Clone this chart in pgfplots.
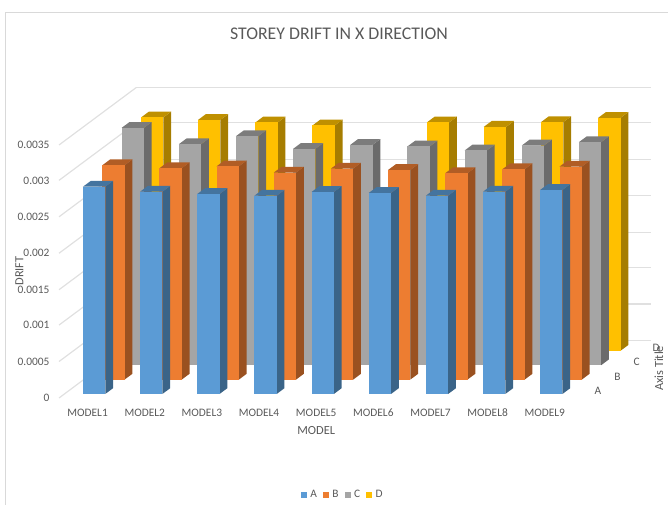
\documentclass[border=0pt]{standalone}
\usepackage{fontspec}
\setmainfont{Carlito}
\usepackage{pgfplots}
\pgfplotsset{compat=1.18}

\definecolor{txt}{HTML}{595959}
\definecolor{gridc}{HTML}{E0E0E0}
\definecolor{frame}{HTML}{D9D9D9}
\definecolor{AFront}{HTML}{5B9BD5}\definecolor{ASide}{HTML}{3A6488}\definecolor{ATop}{HTML}{44749F}
\definecolor{BFront}{HTML}{ED7D31}\definecolor{BSide}{HTML}{9A5120}\definecolor{BTop}{HTML}{B15D25}
\definecolor{CFront}{HTML}{A5A5A5}\definecolor{CSide}{HTML}{6B6B6B}\definecolor{CTop}{HTML}{7C7C7C}
\definecolor{DFront}{HTML}{FFC000}\definecolor{DSide}{HTML}{A67D00}\definecolor{DTop}{HTML}{BF9000}

% One cuboid: model index, depth index, drift value, colour stem
\newcommand{\drawcuboid}[4]{%
  \pgfmathsetmacro\xa{#1+0.325}\pgfmathsetmacro\xb{\xa+0.39}%
  \pgfmathsetmacro\ya{#2+0.28}\pgfmathsetmacro\yb{\ya+0.4}%
  \edef\temp{%
    \noexpand\addplot3[draw=none,fill=#4Side,forget plot] coordinates
      {(\xb,\ya,0) (\xb,\yb,0) (\xb,\yb,#3) (\xb,\ya,#3)};
    \noexpand\addplot3[draw=none,fill=#4Top,forget plot] coordinates
      {(\xa,\ya,#3) (\xb,\ya,#3) (\xb,\yb,#3) (\xa,\yb,#3)};
    \noexpand\addplot3[draw=none,fill=#4Front,forget plot] coordinates
      {(\xa,\ya,0) (\xb,\ya,0) (\xb,\ya,#3) (\xa,\ya,#3)};
  }\temp}

\begin{document}
\begin{tikzpicture}[x=1pt,y=1pt]
\useasboundingbox (0,0) rectangle (668,505);
% chart area border, open at the right and at the bottom
\draw[frame,line width=1.2pt] (5.5,0) -- (5.5,492.5) -- (668,492.5);
\node[txt,font=\fontsize{17.8}{20}\selectfont] at (339,471.5) {STOREY DRIFT IN X DIRECTION};

\begin{axis}[
  at={(59pt,107pt)}, anchor=south west,
  x={(57.15pt,0pt)}, y={(19.35pt,14.4pt)}, z={(0pt,72.4pt)},
  z coord trafo/.code={\pgfmathparse{#1*1000}},
  xmin=0, xmax=9, ymin=0, ymax=4, zmin=0, zmax=0.0035,
  clip=false,
  axis line style={draw=none},
  major tick length=0pt,
  tick style={draw=none},
  zmajorgrids=true,
  grid style={gridc,line width=1.2pt},
  xtick={0.5,1.5,2.5,3.5,4.5,5.5,6.5,7.5,8.5},
  xticklabels={MODEL1,MODEL2,MODEL3,MODEL4,MODEL5,MODEL6,MODEL7,MODEL8,MODEL9},
  ytick={0.5,1.5,2.5,3.5},
  yticklabels={A,B,C,D},
  ztick={0,0.0005,0.001,0.0015,0.002,0.0025,0.003,0.0035},
  zticklabels={0,0.0005,0.001,0.0015,0.002,0.0025,0.003,0.0035},
  tick label style={txt,font=\fontsize{11.4}{13}\selectfont},
  xticklabel style={anchor=center,yshift=-14.7pt},
  yticklabel style={anchor=center,xshift=15pt},
  zticklabel style={anchor=east,xshift=-6pt},
  label style={txt,font=\fontsize{12.4}{14}\selectfont},
  xlabel={MODEL},
  xlabel style={at={(axis cs:4.5,0,0)},anchor=center,yshift=-33pt},
  ylabel={Axis Title},
  ylabel style={at={(axis cs:9,4,0)},anchor=center,xshift=8pt,yshift=-28pt,rotate=90},
  zlabel={DRIFT},
  zlabel style={at={(axis cs:0,0,0)},anchor=center,xshift=127pt,yshift=39.5pt},
  legend style={draw=none,fill=none,at={(axis cs:4.965,0,0)},yshift=-97pt,anchor=center,
    legend columns=4,font=\fontsize{11.4}{13}\selectfont,text=txt,
    /tikz/every even column/.append style={column sep=4pt},
    /tikz/every odd column/.append style={column sep=1.5pt}},
  legend image code/.code={\fill[#1] (0pt,-3pt) rectangle (6pt,3pt);},
]
\addlegendimage{fill=AFront,draw=none}\addlegendentry{A}
\addlegendimage{fill=BFront,draw=none}\addlegendentry{B}
\addlegendimage{fill=CFront,draw=none}\addlegendentry{C}
\addlegendimage{fill=DFront,draw=none}\addlegendentry{D}

% series D has no bar for MODEL5
\foreach \m/\v in {0/0.003222,1/0.00319,2/0.003153,3/0.003112,5/0.003153,6/0.003094,7/0.003159,8/0.003218}
  {\drawcuboid{\m}{3}{\v}{D}}
\foreach \m/\v in {0/0.003278,1/0.003052,2/0.003163,3/0.002988,4/0.003043,5/0.003021,6/0.002965,7/0.003034,8/0.00308}
  {\drawcuboid{\m}{2}{\v}{C}}
\foreach \m/\v in {0/0.00296,1/0.002919,2/0.002946,3/0.002859,4/0.002914,5/0.002895,6/0.00285,7/0.002905,8/0.002942}
  {\drawcuboid{\m}{1}{\v}{B}}
\foreach \m/\v in {0/0.002863,1/0.002794,2/0.002762,3/0.002739,4/0.00279,5/0.002776,6/0.002739,7/0.002794,8/0.002818}
  {\drawcuboid{\m}{0}{\v}{A}}
\end{axis}
\end{tikzpicture}
\end{document}
